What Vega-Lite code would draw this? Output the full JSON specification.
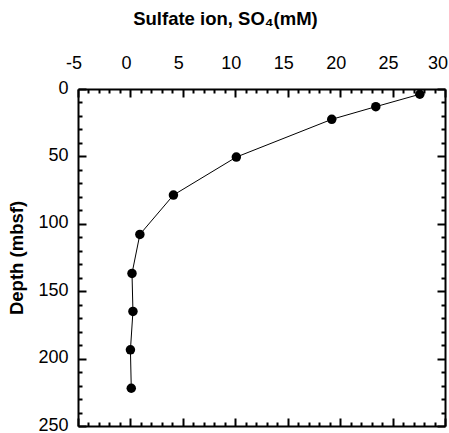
{
  "$schema": "https://vega.github.io/schema/vega-lite/v6.json",
  "width": 367,
  "height": 337,
  "autosize": {"type": "none"},
  "padding": {"left": 78, "top": 89, "right": 4, "bottom": 7},
  "config": {
    "view": {"stroke": null},
    "font": "Liberation Sans"
  },
  "data": {
    "values": [
      {"so4": 27.6, "depth": 3.9},
      {"so4": 23.4, "depth": 13.1},
      {"so4": 19.2, "depth": 22.5},
      {"so4": 10.1, "depth": 50.5},
      {"so4": 4.1, "depth": 78.7},
      {"so4": 0.9, "depth": 107.9},
      {"so4": 0.15, "depth": 136.8},
      {"so4": 0.24, "depth": 165},
      {"so4": 0.0, "depth": 193.5},
      {"so4": 0.08, "depth": 222}
    ]
  },
  "layer": [
    {
      "mark": {"type": "line", "color": "black", "strokeWidth": 1},
      "encoding": {
        "x": {
          "field": "so4", "type": "quantitative",
          "scale": {"domain": [-5, 30], "nice": false, "zero": false},
          "axis": {
            "orient": "top",
            "grid": false,
            "values": [-5, 0, 5, 10, 15, 20, 25, 30],
            "labelExpr": "datum.value + ''",
            "tickSize": -8, "tickWidth": 2, "domainWidth": 2,
            "tickColor": "black", "domainColor": "black",
            "labelFont": "Liberation Sans", "labelFontSize": 18, "labelColor": "black",
            "labelFlush": false,
            "labelOffset": {"expr": "datum.value == 30 ? -7.5 : -4.5"},
            "labelPadding": 25,
            "title": "Sulfate ion, SO₄(mM)",
            "titleFont": "Liberation Sans", "titleFontSize": 18.5, "titleFontWeight": "bold", "titleColor": "black",
            "titlePadding": 26,
            "titleX": 147, "titleAlign": "center"
          }
        },
        "y": {
          "field": "depth", "type": "quantitative",
          "scale": {"domain": [0, 250], "nice": false, "zero": false, "reverse": true},
          "axis": {
            "orient": "left",
            "grid": false,
            "values": [0, 50, 100, 150, 200, 250],
            "tickSize": -8, "tickWidth": 2, "domainWidth": 2,
            "tickColor": "black", "domainColor": "black",
            "labelFont": "Liberation Sans", "labelFontSize": 18, "labelColor": "black",
            "labelFlush": false, "labelOffset": -1,
            "labelPadding": 18,
            "title": "Depth (mbsf)",
            "titleFont": "Liberation Sans", "titleFontSize": 18.5, "titleFontWeight": "bold", "titleColor": "black",
            "titlePadding": 11
          }
        },
        "order": {"field": "depth"}
      }
    },
    {
      "mark": {"type": "point", "filled": true, "color": "black", "opacity": 1, "size": 90},
      "encoding": {
        "x": {
          "field": "so4", "type": "quantitative",
          "axis": {
            "orient": "top", "grid": false,
            "values": [-4,-3,-2,-1,1,2,3,4,6,7,8,9,11,12,13,14,16,17,18,19,21,22,23,24,26,27,28,29],
            "tickSize": -4, "tickWidth": 2, "tickColor": "black", "domain": false, "labels": false, "title": null
          }
        },
        "y": {
          "field": "depth", "type": "quantitative",
          "axis": {
            "orient": "left", "grid": false,
            "values": [10,20,30,40,60,70,80,90,110,120,130,140,160,170,180,190,210,220,230,240],
            "tickSize": -4, "tickWidth": 2, "tickColor": "black", "domain": false, "labels": false, "title": null
          }
        }
      }
    },
    {
      "mark": {"type": "point", "opacity": 0},
      "encoding": {
        "x": {
          "field": "so4", "type": "quantitative",
          "axis": {
            "orient": "bottom", "grid": false,
            "values": [-5, 0, 5, 10, 15, 20, 25, 30],
            "tickSize": -8, "tickWidth": 2, "domainWidth": 2, "tickColor": "black", "domainColor": "black",
            "labels": false, "title": null
          }
        },
        "y": {
          "field": "depth", "type": "quantitative",
          "axis": {
            "orient": "right", "grid": false,
            "values": [0, 50, 100, 150, 200, 250],
            "tickSize": -8, "tickWidth": 2, "domainWidth": 2, "tickColor": "black", "domainColor": "black",
            "labels": false, "title": null
          }
        }
      }
    },
    {
      "mark": {"type": "point", "opacity": 0},
      "encoding": {
        "x": {
          "field": "so4", "type": "quantitative",
          "axis": {
            "orient": "bottom", "grid": false,
            "values": [-4,-3,-2,-1,1,2,3,4,6,7,8,9,11,12,13,14,16,17,18,19,21,22,23,24,26,27,28,29],
            "tickSize": -4, "tickWidth": 2, "tickColor": "black", "domain": false, "labels": false, "title": null
          }
        },
        "y": {
          "field": "depth", "type": "quantitative",
          "axis": {
            "orient": "right", "grid": false,
            "values": [10,20,30,40,60,70,80,90,110,120,130,140,160,170,180,190,210,220,230,240],
            "tickSize": -4, "tickWidth": 2, "tickColor": "black", "domain": false, "labels": false, "title": null
          }
        }
      }
    }
  ],
  "resolve": {"axis": {"x": "independent", "y": "independent"}}
}
